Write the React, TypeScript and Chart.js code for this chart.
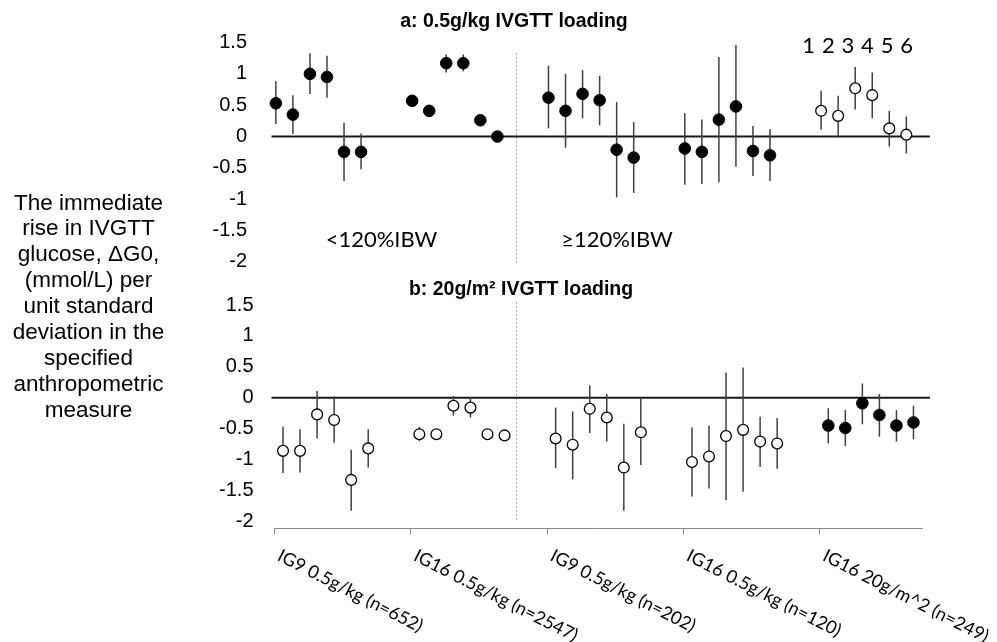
import React, { useEffect, useRef } from 'react';
import { Chart, registerables } from 'chart.js';

Chart.register(...registerables);

// ---------- data ----------
const groupLabels = [
  'IG9 0.5g/kg (n=652)',
  'IG16 0.5g/kg (n=2547)',
  'IG9 0.5g/kg (n=202)',
  'IG16 0.5g/kg (n=120)',
  'IG16 20g/m^2 (n=249)',
];
const measureLabels = ['1', '2', '3', '4', '5', '6'];
const yTickValues = [-2, -1.5, -1, -0.5, 0, 0.5, 1, 1.5];

// panel a: 0.5g/kg IVGTT loading (6 measures per group, 5 groups)
const topMean = [
  0.53, 0.35, 1.0, 0.95, -0.245, -0.245,
  0.57, 0.41, 1.17, 1.17, 0.26, 0.0,
  0.62, 0.41, 0.68, 0.58, -0.21, -0.335,
  -0.19, -0.245, 0.27, 0.48, -0.23, -0.3,
  0.41, 0.33, 0.77, 0.66, 0.13, 0.03,
];
const topLow = [
  0.2, 0.04, 0.68, 0.62, -0.71, -0.52,
  0.47, 0.35, 1.02, 1.04, 0.19, -0.03,
  0.13, -0.18, 0.29, 0.18, -0.97, -0.9,
  -0.77, -0.755, -0.73, -0.48, -0.63, -0.71,
  0.11, 0.0, 0.43, 0.29, -0.16, -0.27,
];
const topHigh = [
  0.88, 0.66, 1.33, 1.29, 0.22, 0.05,
  0.66, 0.47, 1.31, 1.31, 0.33, 0.03,
  1.13, 1.0, 1.06, 0.97, 0.55, 0.23,
  0.37, 0.27, 1.27, 1.46, 0.17, 0.12,
  0.73, 0.65, 1.11, 1.02, 0.41, 0.32,
];
const topFilled = [true, true, true, true, false];

// panel b: 20g/m2 IVGTT loading
const bottomMean = [
  -0.86, -0.86, -0.27, -0.36, -1.33, -0.82,
  -0.59, -0.59, -0.13, -0.16, -0.59, -0.61,
  -0.66, -0.76, -0.18, -0.32, -1.13, -0.56,
  -1.04, -0.95, -0.62, -0.52, -0.71, -0.74,
  -0.45, -0.49, -0.09, -0.28, -0.45, -0.4,
];
const bottomLow = [
  -1.22, -1.21, -0.66, -0.73, -1.83, -1.13,
  -0.7, -0.66, -0.29, -0.32, -0.64, -0.66,
  -1.14, -1.32, -0.57, -0.71, -1.83, -1.09,
  -1.6, -1.47, -1.66, -1.52, -1.12, -1.15,
  -0.74, -0.78, -0.43, -0.63, -0.71, -0.67,
];
const bottomHigh = [
  -0.47, -0.51, 0.11, 0.02, -0.84, -0.51,
  -0.47, -0.52, 0.03, 0.01, -0.54, -0.56,
  -0.16, -0.22, 0.2, 0.06, -0.42, -0.02,
  -0.48, -0.45, 0.41, 0.49, -0.31, -0.33,
  -0.17, -0.2, 0.23, 0.06, -0.2, -0.13,
];
const bottomFilled = [false, false, false, false, true];

const leftTitleLines = [
  'The immediate',
  'rise in IVGTT',
  'glucose, ΔG0,',
  '(mmol/L) per',
  'unit standard',
  'deviation in the',
  'specified',
  'anthropometric',
  'measure',
];
const titleA = 'a: 0.5g/kg IVGTT loading';
const titleB = 'b: 20g/m² IVGTT loading';
const lowLabel = '<120%IBW';
const highLabel = '≥120%IBW';

// ---------- layout constants ----------
const GROUP_STEP = 8;
const TOP_SHIFT = 0.08;
const BOTTOM_SHIFT = 0.5;
const DIVIDER_X = 14.2;
const ARIAL = '"Liberation Sans", Arial, sans-serif';
const CALIBRI_LIKE = 'Lato, "Open Sans", sans-serif';

function buildDatasets() {
  const sets: any[] = [];
  const make = (
    panel: 'yA' | 'yB',
    mean: number[],
    low: number[],
    high: number[],
    filled: boolean[],
    shift: number
  ) => {
    groupLabels.forEach((g, gi) => {
      const data = measureLabels.map((_, k) => ({
        x: gi * GROUP_STEP + k + shift,
        y: mean[gi * measureLabels.length + k],
      }));
      const lo = measureLabels.map((_, k) => low[gi * measureLabels.length + k]);
      const hi = measureLabels.map((_, k) => high[gi * measureLabels.length + k]);
      const f = filled[gi];
      sets.push({
        label: panel + ' ' + g,
        yAxisID: panel,
        xAxisID: 'x',
        data,
        errLow: lo,
        errHigh: hi,
        showLine: false,
        clip: false,
        pointRadius: f ? 5.8 : 5.4,
        pointBorderWidth: f ? 1 : 1.3,
        pointBackgroundColor: f ? '#000000' : '#ffffff',
        pointBorderColor: '#000000',
        pointHoverRadius: 0,
      });
    });
  };
  make('yA', topMean, topLow, topHigh, topFilled, TOP_SHIFT);
  make('yB', bottomMean, bottomLow, bottomHigh, bottomFilled, BOTTOM_SHIFT);
  return sets;
}

const overlayPlugin = {
  id: 'overlay',
  beforeDatasetsDraw(chart: any) {
    const ctx = chart.ctx;
    const xs = chart.scales.x;
    const area = chart.chartArea;
    ctx.save();
    // dotted dividers
    ctx.strokeStyle = '#a6a6a6';
    ctx.lineWidth = 1;
    ctx.setLineDash([2, 2]);
    const dx = Math.round(xs.getPixelForValue(DIVIDER_X)) + 0.5;
    const yA = chart.scales.yA;
    const yB = chart.scales.yB;
    ctx.beginPath();
    ctx.moveTo(dx, yA.getPixelForValue(1.33));
    ctx.lineTo(dx, yA.getPixelForValue(-2.02));
    ctx.moveTo(dx, yB.getPixelForValue(1.55));
    ctx.lineTo(dx, yB.getPixelForValue(-2.0));
    ctx.stroke();
    ctx.setLineDash([]);
    // zero lines
    ctx.strokeStyle = '#1a1a1a';
    ctx.lineWidth = 2;
    for (const s of [yA, yB]) {
      const y0 = s.getPixelForValue(0);
      ctx.beginPath();
      ctx.moveTo(area.left - 3, y0);
      ctx.lineTo(area.right + 8, y0);
      ctx.stroke();
    }
    // error bars
    ctx.strokeStyle = '#404040';
    ctx.lineWidth = 1.5;
    chart.data.datasets.forEach((ds: any) => {
      const ys = chart.scales[ds.yAxisID];
      ds.data.forEach((p: any, j: number) => {
        const px = xs.getPixelForValue(p.x);
        ctx.beginPath();
        ctx.moveTo(px, ys.getPixelForValue(ds.errHigh[j]));
        ctx.lineTo(px, ys.getPixelForValue(ds.errLow[j]));
        ctx.stroke();
      });
    });
    ctx.restore();
  },
  afterDraw(chart: any) {
    const ctx = chart.ctx;
    const xs = chart.scales.x;
    ctx.save();
    ctx.fillStyle = '#000000';
    // panel titles
    ctx.font = `bold 19.5px ${ARIAL}`;
    ctx.textAlign = 'center';
    ctx.textBaseline = 'middle';
    ctx.fillText(titleA, 514, 21.7);
    ctx.fillText(titleB, 521, 290);
    // left axis title
    ctx.font = `22.5px ${ARIAL}`;
    leftTitleLines.forEach((line, i) => {
      ctx.fillText(line, 88.5, 203.3 + i * 25.9);
    });
    // group annotations
    ctx.font = `22px ${CALIBRI_LIKE}`;
    ctx.fillText(lowLabel, 381.5, 240);
    ctx.fillText(highLabel, 617, 240);
    (ctx as any).letterSpacing = '0.6px';
    ctx.fillText(measureLabels.join(' '), 858, 45.7);
    (ctx as any).letterSpacing = '0px';
    // rotated category labels
    ctx.font = `18px ${CALIBRI_LIKE}`;
    ctx.textAlign = 'left';
    ctx.textBaseline = 'alphabetic';
    const angle = (27 * Math.PI) / 180;
    groupLabels.forEach((g, gi) => {
      const px = xs.getPixelForValue(gi * GROUP_STEP);
      ctx.save();
      ctx.translate(px + 1.8, xs.top + 31.5);
      ctx.rotate(angle);
      ctx.fillText(g, 0, 0);
      ctx.restore();
    });
    ctx.restore();
  },
};

export default function App() {
  const canvasRef = useRef<HTMLCanvasElement | null>(null);

  useEffect(() => {
    if (!canvasRef.current) return;
    const yCommon = (padding: number) => ({
      type: 'linear',
      position: 'left',
      stack: 'panels',
      afterBuildTicks: (s: any) => {
        s.ticks = yTickValues.map((v) => ({ value: v }));
      },
      afterFit: (s: any) => {
        s.width = 274.5;
      },
      ticks: {
        autoSkip: false,
        padding,
        color: '#000000',
        font: { family: ARIAL, size: 20 },
        callback: (v: any) => String(v),
      },
      grid: { display: false, drawTicks: false },
      border: { display: false },
    });

    const chart = new Chart(canvasRef.current, {
      type: 'scatter',
      data: { datasets: buildDatasets() },
      options: {
        animation: false,
        responsive: false,
        devicePixelRatio: 1,
        events: [],
        layout: { padding: { top: 42.5, right: 75, bottom: 0, left: 0 } },
        plugins: {
          legend: { display: false },
          tooltip: { enabled: false },
        },
        scales: {
          x: {
            type: 'linear',
            position: 'bottom',
            min: 0,
            max: 38,
            afterBuildTicks: (s: any) => {
              s.ticks = groupLabels.map((_, g) => ({ value: g * GROUP_STEP }));
            },
            afterFit: (s: any) => {
              s.height = 642 - 528.3;
            },
            ticks: { display: false },
            grid: {
              display: true,
              drawOnChartArea: false,
              drawTicks: true,
              tickLength: 6,
              color: '#8c8c8c',
              lineWidth: 1,
            },
            border: { display: true, color: '#8c8c8c', width: 1 },
          },
          yA: {
            ...yCommon(27.5),
            weight: 2,
            stackWeight: 241.5,
            min: -2.352,
            max: 1.5,
          },
          yB: {
            ...yCommon(21),
            weight: 1,
            stackWeight: 244.3,
            min: -2.113,
            max: 1.84,
          },
        } as any,
      },
      plugins: [overlayPlugin],
    } as any);
    return () => chart.destroy();
  }, []);

  return (
    <div
      style={{
        position: 'absolute',
        left: 0,
        top: 0,
        width: 997,
        height: 642,
        background: '#ffffff',
      }}
    >
      <canvas ref={canvasRef} width={997} height={642} style={{ display: 'block' }} />
    </div>
  );
}
